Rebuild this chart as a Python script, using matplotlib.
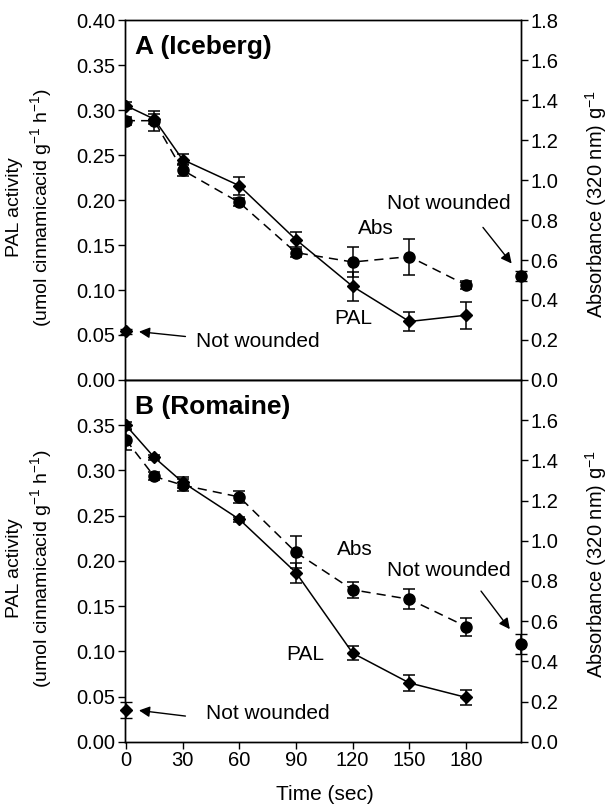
import numpy as np
import matplotlib
matplotlib.use("Agg")
import matplotlib.pyplot as plt

plt.rcParams['font.family'] = ['Liberation Sans', 'DejaVu Sans']
plt.rcParams['mathtext.fontset'] = 'custom'
plt.rcParams['mathtext.rm'] = 'Liberation Sans'
plt.rcParams['mathtext.it'] = 'Liberation Sans:italic'
plt.rcParams['mathtext.bf'] = 'Liberation Sans:bold'

# time points (sec)
t = [0, 15, 30, 60, 90, 120, 150, 180]

# panel A (Iceberg)
pal_a = [0.305, 0.290, 0.245, 0.216, 0.156, 0.104, 0.065, 0.072]
pal_a_err = [0.004, 0.006, 0.006, 0.010, 0.008, 0.016, 0.011, 0.015]
abs_a = [1.297, 1.297, 1.05, 0.888, 0.637, 0.59, 0.617, 0.475]
abs_a_err = [0.02, 0.05, 0.03, 0.02, 0.02, 0.075, 0.09, 0.02]
pal_a_nw, pal_a_nw_err = 0.054, 0.003
abs_a_nw, abs_a_nw_err = 0.52, 0.025

# panel B (Romaine)
pal_b = [0.350, 0.3145, 0.287, 0.246, 0.187, 0.098, 0.065, 0.049]
pal_b_err = [0.004, 0.003, 0.006, 0.003, 0.011, 0.008, 0.009, 0.008]
abs_b = [1.503, 1.320, 1.277, 1.218, 0.942, 0.756, 0.709, 0.573]
abs_b_err = [0.05, 0.02, 0.03, 0.03, 0.08, 0.04, 0.05, 0.045]
pal_b_nw, pal_b_nw_err = 0.035, 0.009
abs_b_nw, abs_b_nw_err = 0.487, 0.05

x_nw_right = 209

fig = plt.figure(figsize=(6.1, 8.05), dpi=100)
axA = fig.add_axes([0.205, 0.528, 0.649, 0.447])
axB = fig.add_axes([0.205, 0.0786, 0.649, 0.4494])

ylab_left = "PAL activity\n(umol cinnamicacid g$^{-1}$ h$^{-1}$)"
ylab_right = "Absorbance (320 nm) g$^{-1}$"
FS = 14.5


def draw_panel(ax, pal, pal_err, ab, ab_err, pal_nw, pal_nw_err, ab_nw, ab_nw_err,
               title, yticks_left, yticks_right, notes, bottom):
    ax2 = ax.twinx()
    ax.errorbar(t, pal, yerr=pal_err, color='black', lw=1.1, marker='D', ms=6,
                capsize=4, elinewidth=1.1, capthick=1.1)
    ax.errorbar([0], [pal_nw], yerr=[pal_nw_err], color='black', marker='D', ms=6,
                capsize=4, elinewidth=1.1, ls='none', clip_on=False)
    ax2.errorbar(t, ab, yerr=ab_err, color='black', lw=1.1, ls=(0, (6, 4)),
                 marker='o', ms=8, capsize=4, elinewidth=1.1, capthick=1.1)
    ax2.errorbar([x_nw_right], [ab_nw], yerr=[ab_nw_err], color='black', marker='o',
                 ms=8, capsize=4, elinewidth=1.1, ls='none', clip_on=False)

    ax.set_xlim(-0.4, 209)
    ax.set_ylim(0, 0.40)
    ax2.set_ylim(0, 1.8)
    ax.set_yticks(yticks_left)
    ax.set_yticklabels([f"{v:.2f}" for v in yticks_left])
    ax2.set_yticks(yticks_right)
    ax2.set_yticklabels([f"{v:.1f}" for v in yticks_right])
    for a in (ax, ax2):
        a.tick_params(direction='out', length=5, width=1, labelsize=FS, pad=2)
        for s in a.spines.values():
            s.set_linewidth(1)
    ax.set_xticks([0, 30, 60, 90, 120, 150, 180])
    if bottom:
        ax.text(0.505, -0.147, "Time (sec)", fontsize=FS + 0.5, ha='center',
                va='center', transform=ax.transAxes)
    else:
        ax.set_xticklabels([])
    # axis titles
    ax.text(-0.24, 0.48, ylab_left, fontsize=14, linespacing=1.3, rotation=90,
            ha='center', va='center', multialignment='center', transform=ax.transAxes)
    ax.text(1.19, 0.49, ylab_right, fontsize=14.5, rotation=90,
            ha='center', va='center', transform=ax.transAxes)

    ax.text(5, 0.37, title, fontsize=19, fontweight='bold', va='center', ha='left')
    for txt, xy, xytext in notes:
        if xy is None:
            ax.text(xytext[0], xytext[1], txt, fontsize=15, ha='center', va='center')
        else:
            ax.annotate("", xy=xy, xytext=xytext,
                        arrowprops=dict(arrowstyle='-|>', color='black', lw=1,
                                        mutation_scale=16), annotation_clip=False)
            ax.text(txt[1][0], txt[1][1], txt[0], fontsize=15, ha='center', va='center')
    return ax2


notes_a = [
    ("Abs", None, (132, 0.1685)),
    ("PAL", None, (120.5, 0.0685)),
    (("Not wounded", (70, 0.0425)), (5.5, 0.054), (33, 0.048)),
    (("Not wounded", (171, 0.196)), (205, 0.127), (188, 0.172)),
]
notes_b = [
    ("Abs", None, (121, 0.213)),
    ("PAL", None, (95, 0.096)),
    (("Not wounded", (75, 0.031)), (5.5, 0.035), (33, 0.028)),
    (("Not wounded", (171, 0.189)), (204, 0.122), (187, 0.169)),
]

draw_panel(axA, pal_a, pal_a_err, abs_a, abs_a_err, pal_a_nw, pal_a_nw_err,
           abs_a_nw, abs_a_nw_err, "A (Iceberg)",
           np.arange(0, 0.41, 0.05), np.arange(0, 1.81, 0.2), notes_a, False)
draw_panel(axB, pal_b, pal_b_err, abs_b, abs_b_err, pal_b_nw, pal_b_nw_err,
           abs_b_nw, abs_b_nw_err, "B (Romaine)",
           np.arange(0, 0.36, 0.05), np.arange(0, 1.61, 0.2), notes_b, True)

fig.savefig("out.png", dpi=100)
